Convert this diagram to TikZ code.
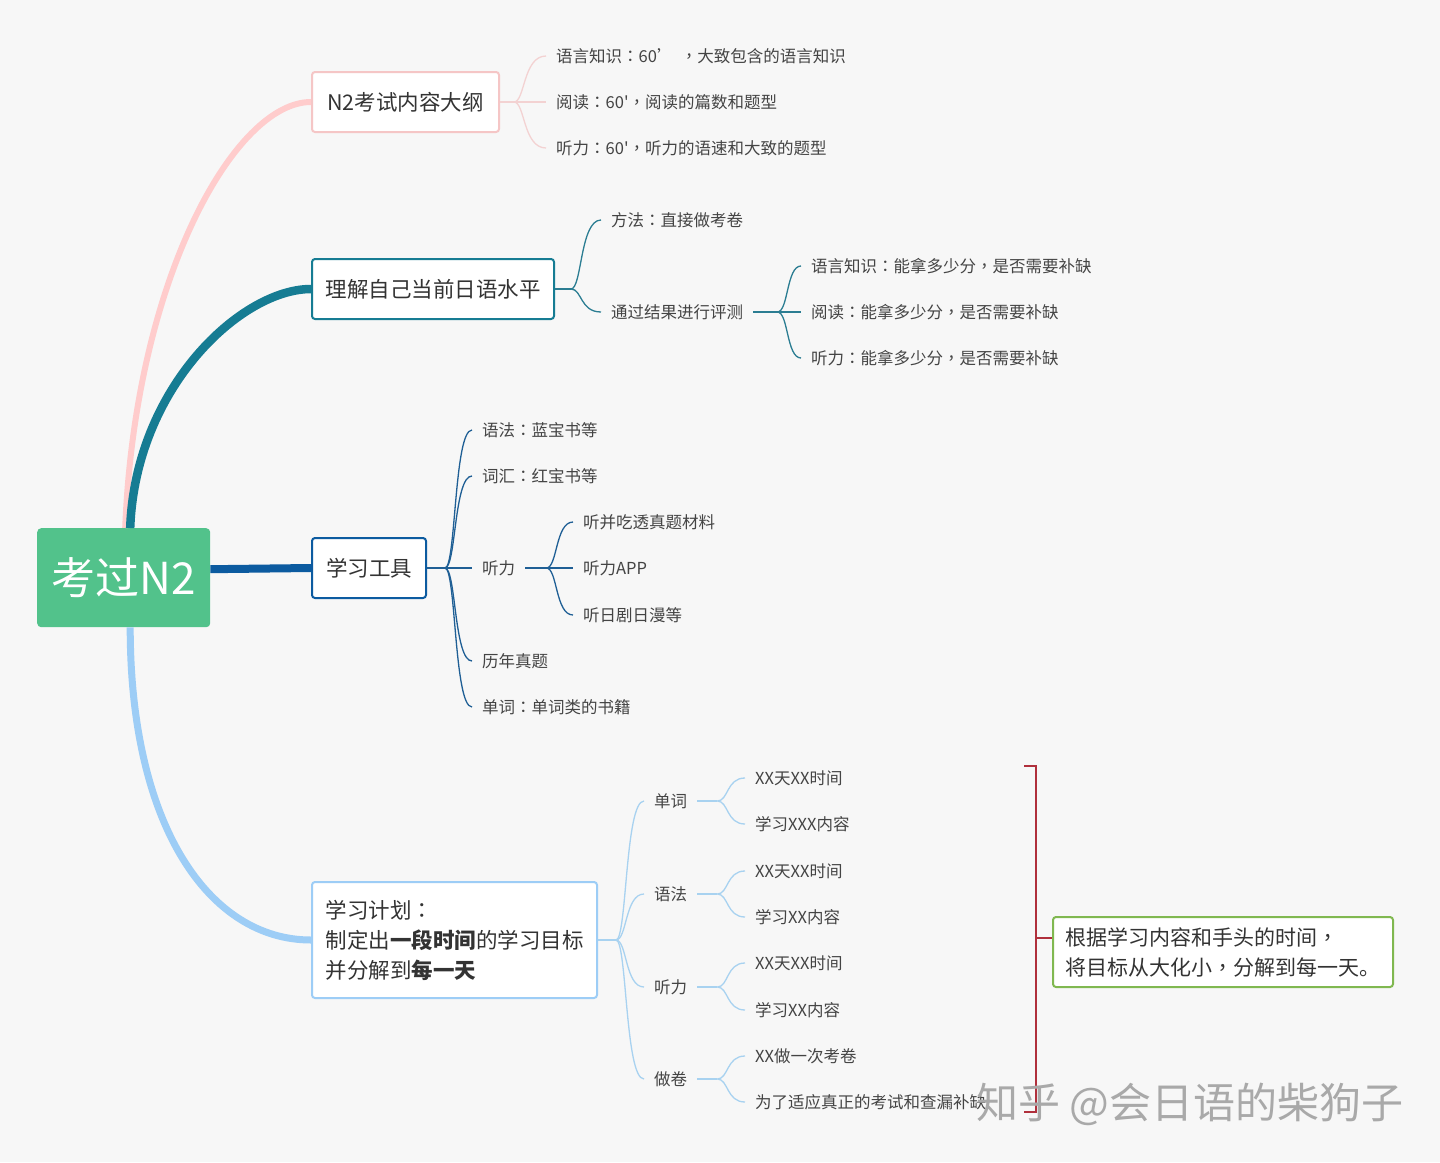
\documentclass[tikz,border=0pt]{standalone}
\usepackage{fontspec}
\setmainfont{Noto Sans CJK SC}
\newfontfamily\tcf{Noto Sans CJK TC}
\newfontfamily\scraw{Noto Sans CJK SC}
\newcommand{\cco}{{\tcf ：}}
\newcommand{\ccm}{{\tcf ，}}
\newcommand{\sq}{{\scraw '}}
\usetikzlibrary{calc}
\definecolor{bg}{HTML}{F7F7F7}
\definecolor{rootg}{HTML}{52C28B}
\definecolor{pinkl}{HTML}{FFCCCC}
\definecolor{pinkb}{HTML}{F5C6C6}
\definecolor{pinks}{HTML}{F3D2D2}
\definecolor{teal1}{HTML}{167C93}
\definecolor{teals}{HTML}{2B7D92}
\definecolor{dblue}{HTML}{0C5BA0}
\definecolor{dblues}{HTML}{1F5F95}
\definecolor{lblue}{HTML}{9DCDF6}
\definecolor{lblues}{HTML}{A8D2F0}
\definecolor{txt}{HTML}{333333}
\definecolor{leaftxt}{HTML}{444444}
\definecolor{redb}{HTML}{B0303C}
\definecolor{noteg}{HTML}{80B850}
\definecolor{wm}{HTML}{A9A9A9}
\begin{document}
\begin{tikzpicture}[x=1pt,y=-1pt,
  box/.style={draw, fill=white, rounded corners=3pt, line width=2pt, inner sep=2pt, anchor=north west, text=txt, font=\fontsize{21.5}{30}\selectfont},
  leaf/.style={anchor=west, inner xsep=10pt, inner ysep=2pt, text=leaftxt, font=\fontsize{16.5}{20}\selectfont},
  sub/.style={line width=1.3pt},
  brace/.style={to path={.. controls ($(\tikztostart)+(11,0)$) and ($(\tikztostart |- \tikztotarget)+(9,0)$) .. (\tikztotarget)}}
]
\fill[bg] (0,0) rectangle (1440,1162);
\useasboundingbox (0,0) rectangle (1440,1162);

% root and main boxes
\node[fill=rootg, rounded corners=4pt, minimum width=173pt, minimum height=99pt, anchor=north west, text=white, font=\fontsize{44}{44}\selectfont, inner sep=0pt] (root) at (37,528) {考过N2};
\node[box, draw=pinkb, minimum width=187pt, minimum height=60pt] (b1) at (311,71) {N2考试内容大纲};
\node[box, draw=teal1, minimum width=242pt, minimum height=60pt] (b2) at (311,258) {理解自己当前日语水平};
\node[box, draw=dblue, minimum width=114pt, minimum height=60pt] (b3) at (311,537) {学习工具};
\node[box, draw=lblue, minimum width=285pt, minimum height=116pt, align=left] (b4) at (311,881) {学习计划\cco\\制定出{\bfseries 一段时间}的学习目标\\并分解到{\bfseries 每一天}};

% main connectors
\draw[line width=6pt, pinkl] ([xshift=1.5pt]root.north) .. controls ($(root.north)+(11.5,-250)$) and ($(b1.west)+(-76,0)$) .. (b1.west);
\draw[line width=8.5pt, teal1] ([xshift=6.5pt]root.north) .. controls ($(root.north)+(11.5,-140)$) and ($(b2.west)+(-70,0)$) .. (b2.west);
\draw[line width=8pt, dblue] ([yshift=8.5pt]root.east) .. controls ($(root.east)+(50,-8.5)$) and ($(b3.west)+(-50,0)$) .. (b3.west);
\draw[line width=7pt, lblue] ([xshift=6.5pt]root.south) .. controls ($(root.south)+(6.5,200)$) and ($(b4.west)+(-101,0)$) .. (b4.west);

% branch 1
\node[leaf] (c11) at (546,56) {语言知识\cco 60’~~\ccm 大致包含的语言知识};
\node[leaf] (c12) at (546,102) {阅读\cco 60\sq\ccm 阅读的篇数和题型};
\node[leaf] (c13) at (546,148) {听力\cco 60\sq\ccm 听力的语速和大致的题型};
\coordinate (J1) at ($(b1.east)+(14,0)$);
\draw[sub, pinks] (b1.east) -- (J1);
\foreach \c in {c11,c12,c13} \draw[sub, pinks] (J1) to[brace] (\c.west);

% branch 2
\node[leaf] (c21) at (601,220) {方法\cco 直接做考卷};
\node[leaf] (c22) at (601,312) {通过结果进行评测};
\coordinate (J2) at ($(b2.east)+(16,0)$);
\draw[sub, teals] (b2.east) -- (J2);
\foreach \c in {c21,c22} \draw[sub, teals] (J2) to[brace] (\c.west);
\node[leaf] (c221) at (801,266) {语言知识\cco 能拿多少分\ccm 是否需要补缺};
\node[leaf] (c222) at (801,312) {阅读\cco 能拿多少分\ccm 是否需要补缺};
\node[leaf] (c223) at (801,358) {听力\cco 能拿多少分\ccm 是否需要补缺};
\coordinate (J22) at ($(c22.east)+(24,0)$);
\draw[sub, teals] (c22.east) -- (J22);
\foreach \c in {c221,c222,c223} \draw[sub, teals] (J22) to[brace] (\c.west);

% branch 3
\node[leaf] (c31) at (472,430) {语法\cco 蓝宝书等};
\node[leaf] (c32) at (472,476) {词汇\cco 红宝书等};
\node[leaf] (c33) at (472,568) {听力};
\node[leaf] (c34) at (472,661) {历年真题};
\node[leaf] (c35) at (472,707) {单词\cco 单词类的书籍};
\coordinate (J3) at ($(b3.east)+(18,0)$);
\draw[sub, dblues] (b3.east) -- (J3);
\foreach \c in {c31,c32,c33,c34,c35} \draw[sub, dblues] (J3) to[brace] (\c.west);
\node[leaf] (c331) at (573,522) {听并吃透真题材料};
\node[leaf] (c332) at (573,568) {听力APP};
\node[leaf] (c333) at (573,615) {听日剧日漫等};
\coordinate (J33) at ($(c33.east)+(21,0)$);
\draw[sub, dblues] (c33.east) -- (J33);
\foreach \c in {c331,c332,c333} \draw[sub, dblues] (J33) to[brace] (\c.west);

% branch 4
\node[leaf] (c41) at (644,801) {单词};
\node[leaf] (c42) at (644,894) {语法};
\node[leaf] (c43) at (644,987) {听力};
\node[leaf] (c44) at (644,1079) {做卷};
\coordinate (J4) at ($(b4.east)+(18,0)$);
\draw[sub, lblues] (b4.east) -- (J4);
\foreach \c in {c41,c42,c43,c44} \draw[sub, lblues] (J4) to[brace] (\c.west);
\node[leaf] (c411) at (745,778) {XX天XX时间};
\node[leaf] (c412) at (745,824) {学习XXX内容};
\node[leaf] (c421) at (745,871) {XX天XX时间};
\node[leaf] (c422) at (745,917) {学习XX内容};
\node[leaf] (c431) at (745,963) {XX天XX时间};
\node[leaf] (c432) at (745,1010) {学习XX内容};
\node[leaf] (c441) at (745,1056) {XX做一次考卷};
\node[leaf] (c442) at (745,1102) {为了适应真正的考试和查漏补缺};
\foreach \p/\a/\b in {c41/c411/c412, c42/c421/c422, c43/c431/c432, c44/c441/c442} {
  \coordinate (J\p) at ($(\p.east)+(20,0)$);
  \draw[sub, lblues] (\p.east) -- (J\p);
  \draw[sub, lblues] (J\p) to[brace] (\a.west);
  \draw[sub, lblues] (J\p) to[brace] (\b.west);
}

% summary bracket and note
\node[box, draw=noteg, minimum width=340pt, minimum height=70pt, align=left, font=\fontsize{21}{30}\selectfont] (note) at (1052,916) {根据学习内容和手头的时间\ccm\\将目标从大化小\ccm 分解到每一天。};
\coordinate (rt) at (1024,766);
\coordinate (rb) at (1024,1112);
\coordinate (rm) at (1036,938);
\draw[line width=1.3pt, redb] (rt) -- (1036,766) -- (1036,1112) -- (rb);
\draw[line width=1.3pt, redb] (rm) -- (note.west |- rm);

% watermark
\node[text=wm, font=\fontsize{42}{42}\selectfont, inner sep=0pt] (wmk) at (1190,1104) {知乎 @会日语的柴狗子};
\end{tikzpicture}
\end{document}
